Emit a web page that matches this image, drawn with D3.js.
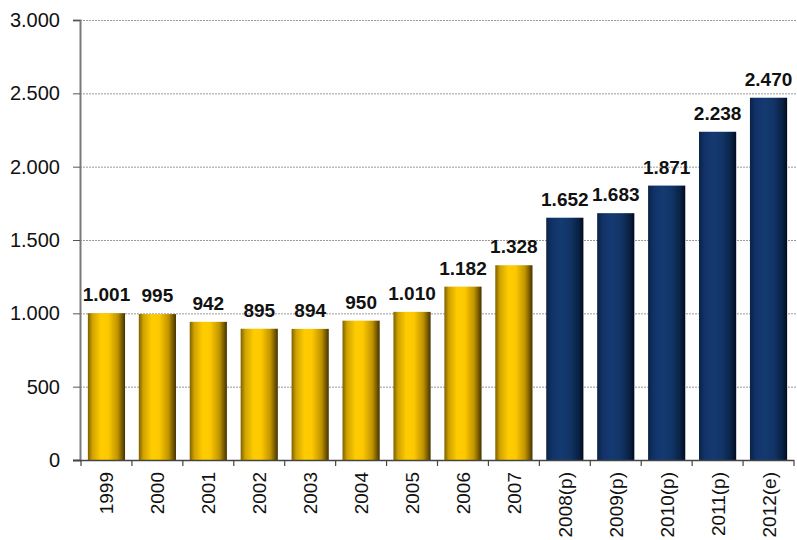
<!DOCTYPE html>
<html><head><meta charset="utf-8">
<script src="https://cdn.jsdelivr.net/npm/d3@7"></script>
<style>body{margin:0;background:#fff;} svg{display:block;font-family:"Liberation Sans",Arial,Helvetica,sans-serif;}</style>
</head><body><svg id="c" width="797" height="540"></svg>
<script>
const categories = ["1999","2000","2001","2002","2003","2004","2005","2006","2007","2008(p)","2009(p)","2010(p)","2011(p)","2012(e)"];
const values = [1001,995,942,895,894,950,1010,1182,1328,1652,1683,1871,2238,2470];
const projected = [false,false,false,false,false,false,false,false,false,true,true,true,true,true];
const yTicks = [0,500,1000,1500,2000,2500,3000];

const svg = d3.select("#c");
const m = {left:80, right:3, top:20, bottom:80};
const W = 797, H = 540;
const x = d3.scaleBand().domain(categories).range([m.left+1, W-m.right]).paddingInner(0.27).paddingOuter(0.135);
const y = d3.scaleLinear().domain([0,3000]).range([H-m.bottom, m.top]);
const loc = d3.formatLocale({decimal:",", thousands:".", grouping:[3], currency:["",""]});
const fmt = loc.format(",d");

const defs = svg.append("defs");
function grad(id, stops){
  const g = defs.append("linearGradient").attr("id",id).attr("x1","0").attr("x2","1").attr("y1","0").attr("y2","0");
  stops.forEach(s=>g.append("stop").attr("offset",s[0]).attr("stop-color",s[1]));
}
grad("gy",[[0,"#7d6000"],[0.12,"#cfa200"],[0.35,"#ffcc00"],[0.55,"#fdc800"],[0.8,"#c09400"],[1,"#453300"]]);
grad("gb",[[0,"#0a2246"],[0.15,"#113268"],[0.4,"#143a72"],[0.65,"#113465"],[0.88,"#092043"],[1,"#020b1c"]]);

// gridlines
svg.append("g").selectAll("line").data(yTicks.filter(t=>t>0)).join("line")
  .attr("x1",m.left).attr("x2",W).attr("y1",d=>y(d)+0.5).attr("y2",d=>y(d)+0.5)
  .attr("stroke","#9a9a9a").attr("stroke-width",1).attr("stroke-dasharray","2,1");

// bars
svg.append("g").selectAll("rect").data(values).join("rect")
  .attr("x",(d,i)=>x(categories[i])).attr("width",x.bandwidth())
  .attr("y",d=>y(d)).attr("height",d=>y(0)-y(d))
  .attr("fill",(d,i)=>projected[i]?"url(#gb)":"url(#gy)");

// value labels
svg.append("g").selectAll("text").data(values).join("text")
  .attr("x",(d,i)=>x(categories[i])+x.bandwidth()/2).attr("y",d=>y(d)-12)
  .attr("text-anchor","middle").attr("font-size",19).attr("font-weight","bold").attr("fill","#111")
  .text(d=>fmt(d));

// y axis
const ya = svg.append("g").attr("transform",`translate(${m.left},0)`)
  .call(d3.axisLeft(y).tickValues(yTicks).tickFormat(fmt).tickSize(7).tickPadding(13));
ya.select(".domain").attr("stroke","#7a7a7a").attr("stroke-width",2);
ya.selectAll(".tick line").attr("stroke","#555");
ya.selectAll(".tick text").attr("font-size",20).attr("fill","#111").attr("font-family","Liberation Sans, Arial, sans-serif");

// x axis
const xa = svg.append("g").attr("transform",`translate(0,${y(0)})`);
xa.append("line").attr("x1",m.left-7).attr("x2",W-m.right).attr("y1",0.5).attr("y2",0.5).attr("stroke","#444").attr("stroke-width",1.5);
const step = x.step();
const bounds = d3.range(categories.length+1).map(i=> x(categories[0]) - x.paddingInner()*step/2 + i*step);
xa.selectAll("line.tk").data(bounds).join("line").attr("class","tk")
  .attr("x1",d=>d).attr("x2",d=>d).attr("y1",0).attr("y2",6).attr("stroke","#444").attr("stroke-width",1.2);
xa.selectAll("text").data(categories).join("text")
  .attr("transform",d=>`translate(${x(d)+x.bandwidth()/2+7},12) rotate(-90)`)
  .attr("text-anchor","end").attr("font-size",19).attr("fill","#111").text(d=>d);
</script></body></html>
